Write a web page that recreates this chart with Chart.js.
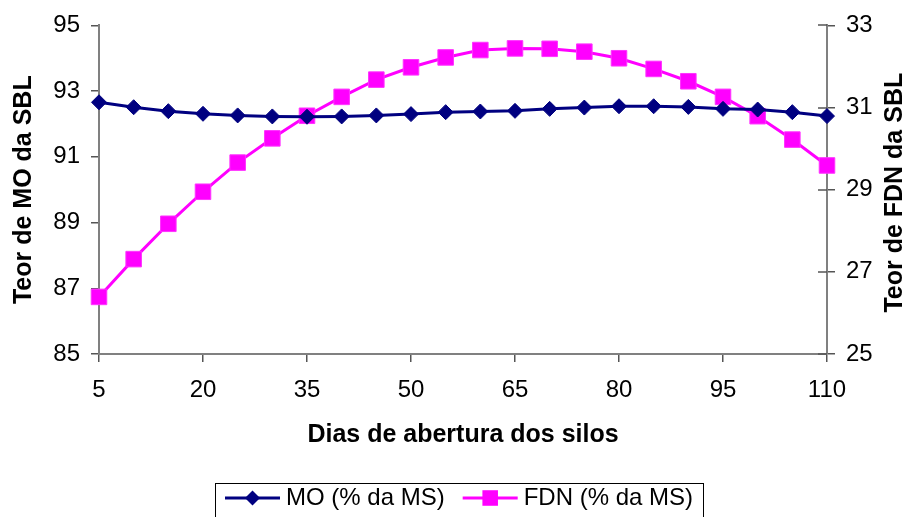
<!DOCTYPE html>
<html>
<head>
<meta charset="utf-8">
<script src="https://cdn.jsdelivr.net/npm/chart.js@4"></script>
<style>
  body { margin: 0; background: #fff; }
  #wrap { width: 910px; height: 517px; position: relative; }
</style>
</head>
<body>
<div id="wrap"><canvas id="myChart"></canvas></div>
<script>
var days = [5, 10, 15, 20, 25, 30, 35, 40, 45, 50, 55, 60, 65, 70, 75, 80, 85, 90, 95, 100, 105, 110];
var moValues = [92.66, 92.51, 92.39, 92.31, 92.26, 92.23, 92.22, 92.23, 92.26, 92.30, 92.36,
                92.38, 92.40, 92.46, 92.50, 92.54, 92.54, 92.52, 92.46, 92.44, 92.36, 92.24];
var fdnValues = [26.39, 27.31, 28.17, 28.95, 29.66, 30.25, 30.80, 31.26, 31.68, 31.98, 32.22,
                 32.40, 32.44, 32.43, 32.36, 32.20, 31.94, 31.64, 31.26, 30.79, 30.22, 29.59];
var xTicks = [5, 20, 35, 50, 65, 80, 95, 110];
var moTicks = [85, 87, 89, 91, 93, 95];
var fdnTicks = [25, 27, 29, 31, 33];

var FONT = "'Liberation Sans', Arial, sans-serif";

function toPoints(xs, ys) {
    return xs.map(function(x, i) { return { x: x, y: ys[i] }; });
}

// right axis: ticks cross the axis line, title reads bottom to top
var rightAxisExtras = {
    id: 'rightAxisExtras',
    beforeDatasetsDraw: function(chart) {
        var ctx = chart.ctx, s = chart.scales.y1, area = chart.chartArea;
        ctx.save();
        ctx.strokeStyle = '#555';
        ctx.lineWidth = 1.5;
        s.ticks.forEach(function(t) {
            var y = Math.round(s.getPixelForValue(t.value));
            ctx.beginPath();
            ctx.moveTo(area.right - 9, y);
            ctx.lineTo(area.right, y);
            ctx.stroke();
        });
        ctx.restore();
    },
    afterDraw: function(chart) {
        var ctx = chart.ctx, area = chart.chartArea;
        ctx.save();
        ctx.translate(895, (area.top + area.bottom) / 2 + 3);
        ctx.rotate(-Math.PI / 2);
        ctx.font = 'bold 25px ' + FONT;
        ctx.fillStyle = '#000';
        ctx.textAlign = 'center';
        ctx.textBaseline = 'middle';
        ctx.fillText('Teor de FDN da SBL', 0, 0);
        ctx.restore();
    }
};

// boxed legend with line + marker samples
var boxLegend = {
    id: 'boxLegend',
    afterDraw: function(chart) {
        var ctx = chart.ctx;
        var sets = chart.data.datasets;
        ctx.save();
        ctx.font = '24px ' + FONT;
        var lineLen = 55, gap = 6, itemGap = 18, pad = 10;
        var total = pad * 2 + itemGap * (sets.length - 1);
        sets.forEach(function(ds) { total += lineLen + gap + ctx.measureText(ds.label).width; });
        var x = Math.round(459.5 - total / 2), top = 483, y = 498;
        ctx.strokeStyle = '#000';
        ctx.lineWidth = 1;
        ctx.strokeRect(x + 0.5, top + 0.5, Math.round(total), 40);
        x += pad;
        sets.forEach(function(ds) {
            ctx.strokeStyle = ds.borderColor;
            ctx.lineWidth = 3;
            ctx.beginPath();
            ctx.moveTo(x, y);
            ctx.lineTo(x + lineLen, y);
            ctx.stroke();
            var cx = x + lineLen / 2;
            ctx.fillStyle = ds.pointBackgroundColor;
            ctx.beginPath();
            if (ds.pointStyle === 'rectRot') {
                var r = ds.pointRadius;
                ctx.moveTo(cx - r, y); ctx.lineTo(cx, y - r);
                ctx.lineTo(cx + r, y); ctx.lineTo(cx, y + r);
            } else {
                var h = ds.pointRadius * Math.SQRT1_2;
                ctx.rect(cx - h, y - h, 2 * h, 2 * h);
            }
            ctx.closePath();
            ctx.fill();
            x += lineLen + gap;
            ctx.fillStyle = '#000';
            ctx.textAlign = 'left';
            ctx.textBaseline = 'middle';
            ctx.fillText(ds.label, x, y);
            x += ctx.measureText(ds.label).width + itemGap;
        });
        ctx.restore();
    }
};

document.addEventListener('DOMContentLoaded', function() {
    var ctx = document.getElementById('myChart').getContext('2d');
    new Chart(ctx, {
        type: 'line',
        data: {
            datasets: [{
                label: 'MO (% da MS)',
                data: toPoints(days, moValues),
                yAxisID: 'y',
                borderColor: '#000080',
                backgroundColor: '#000080',
                borderWidth: 3,
                pointStyle: 'rectRot',
                pointRadius: 7.5,
                pointBackgroundColor: '#000080',
                pointBorderColor: '#000080',
                pointBorderWidth: 1,
                tension: 0,
                clip: false
            }, {
                label: 'FDN (% da MS)',
                data: toPoints(days, fdnValues),
                yAxisID: 'y1',
                borderColor: '#FF00FF',
                backgroundColor: '#FF00FF',
                borderWidth: 3,
                pointStyle: 'rect',
                pointRadius: 11,
                pointBackgroundColor: '#FF00FF',
                pointBorderColor: '#FF33FF',
                pointBorderWidth: 1,
                tension: 0,
                clip: false
            }]
        },
        options: {
            responsive: true,
            maintainAspectRatio: false,
            animation: false,
            layout: { padding: { top: 19, bottom: 63, left: 0, right: 0 } },
            plugins: {
                legend: { display: false },
                tooltip: { enabled: false }
            },
            scales: {
                x: {
                    type: 'linear',
                    min: 5,
                    max: 110,
                    afterBuildTicks: function(s) { s.ticks = xTicks.map(function(v) { return { value: v }; }); },
                    afterFit: function(s) { s.height = 100; },
                    grid: { drawOnChartArea: false, tickLength: 8, color: '#555', lineWidth: 1.5 },
                    border: { color: '#808080', width: 2 },
                    ticks: { color: '#000', padding: 14, maxRotation: 0, font: { family: FONT, size: 24 } },
                    title: {
                        display: true,
                        text: 'Dias de abertura dos silos',
                        color: '#000',
                        padding: { top: 0, bottom: 4 },
                        font: { family: FONT, size: 25, weight: 'bold' }
                    }
                },
                y: {
                    position: 'left',
                    min: 85,
                    max: 95,
                    afterBuildTicks: function(s) { s.ticks = moTicks.map(function(v) { return { value: v }; }); },
                    afterFit: function(s) { s.width = 99; },
                    grid: { drawOnChartArea: false, tickLength: 8, color: '#555', lineWidth: 1.5 },
                    border: { color: '#808080', width: 2 },
                    ticks: { color: '#000', padding: 11, font: { family: FONT, size: 24 } },
                    title: {
                        display: true,
                        text: 'Teor de MO da SBL',
                        color: '#000',
                        padding: { top: 9, bottom: 0 },
                        font: { family: FONT, size: 25, weight: 'bold' }
                    }
                },
                y1: {
                    position: 'right',
                    min: 25,
                    max: 33,
                    afterBuildTicks: function(s) { s.ticks = fdnTicks.map(function(v) { return { value: v }; }); },
                    afterFit: function(s) { s.width = 83; },
                    grid: { drawOnChartArea: false, tickLength: 8, color: '#555', lineWidth: 1.5 },
                    border: { color: '#808080', width: 2 },
                    ticks: { color: '#000', padding: 11, font: { family: FONT, size: 24 } }
                }
            }
        },
        plugins: [rightAxisExtras, boxLegend]
    });
});
</script>
</body>
</html>
